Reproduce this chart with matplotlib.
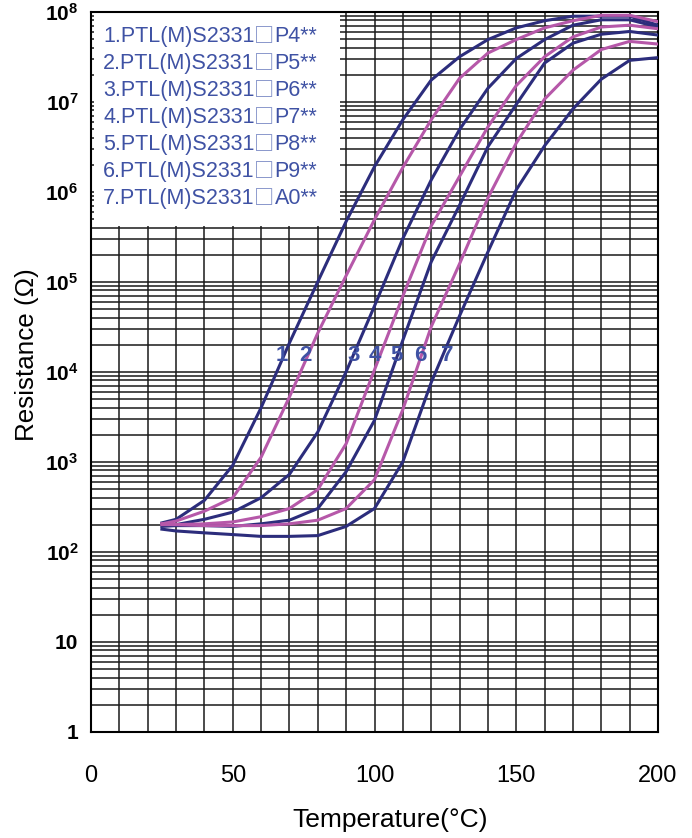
import matplotlib
matplotlib.use('Agg')
import matplotlib.pyplot as plt
from matplotlib.ticker import MultipleLocator, LogLocator, NullFormatter, FixedLocator
from matplotlib.patches import Rectangle

plt.rcParams['font.family'] = ['Liberation Sans', 'DejaVu Sans']
plt.rcParams['mathtext.fontset'] = 'custom'
plt.rcParams['mathtext.rm'] = 'Liberation Sans'
plt.rcParams['mathtext.bf'] = 'Liberation Sans:bold'

# ---------------- data ----------------
temperature = [25, 30, 40, 50, 60, 70, 80, 90, 100, 110, 120, 130, 140, 150, 160, 170, 180, 190, 200]

curve_1 = [209, 229, 372, 912, 3980, 2.09e4, 1.0e5, 4.68e5, 1.9e6, 6.31e6, 1.74e7, 3.16e7, 4.9e7, 6.61e7, 7.94e7, 8.91e7, 8.91e7, 8.91e7, 7.08e7]
curve_2 = [204, 219, 282, 398, 1122, 5248, 2.69e4, 1.17e5, 4.9e5, 1.86e6, 6.31e6, 1.82e7, 3.47e7, 4.9e7, 6.61e7, 7.94e7, 9.12e7, 9.12e7, 7.76e7]
curve_3 = [200, 200, 229, 275, 398, 724, 2138, 1.0e4, 5.37e4, 3.02e5, 1.35e6, 4.9e6, 1.41e7, 3.02e7, 4.9e7, 7.08e7, 8.13e7, 8.13e7, 6.76e7]
curve_4 = [204, 200, 204, 214, 245, 302, 490, 1585, 1.05e4, 6.92e4, 4.17e5, 1.48e6, 5.25e6, 1.51e7, 3.16e7, 5.25e7, 6.76e7, 7.08e7, 6.46e7]
curve_5 = [191, 195, 195, 191, 204, 224, 302, 776, 2884, 2.24e4, 1.66e5, 7.08e5, 3.16e6, 9.33e6, 2.69e7, 4.47e7, 5.62e7, 6.03e7, 5.5e7]
curve_6 = [200, 200, 195, 195, 195, 204, 224, 302, 631, 3802, 3.16e4, 1.58e5, 8.51e5, 3.47e6, 1.07e7, 2.24e7, 3.8e7, 4.68e7, 4.37e7]
curve_7 = [178, 170, 162, 155, 148, 148, 151, 191, 302, 1000, 7586, 4.17e4, 2.14e5, 1.05e6, 3.24e6, 8.32e6, 1.78e7, 2.88e7, 3.09e7]

curves = [curve_1, curve_2, curve_3, curve_4, curve_5, curve_6, curve_7]
name_prefix = '{}.PTL(M)S2331'
name_box = '\u25a1'
name_suffix = ['P4**', 'P5**', 'P6**', 'P7**', 'P8**', 'P9**', 'A0**']
curve_numbers = ['1', '2', '3', '4', '5', '6', '7']
number_label_T = [67.4, 75.5, 92.8, 100.2, 107.6, 116.1, 125.6]
number_label_R = 1.53e4

x_ticks = [0, 50, 100, 150, 200]
y_ticks = [1, 10, 1e2, 1e3, 1e4, 1e5, 1e6, 1e7, 1e8]
y_tick_labels = ['1', '10', r'$\mathbf{10^{2}}$', r'$\mathbf{10^{3}}$', r'$\mathbf{10^{4}}$',
                 r'$\mathbf{10^{5}}$', r'$\mathbf{10^{6}}$', r'$\mathbf{10^{7}}$', r'$\mathbf{10^{8}}$']

# ---------------- style ----------------
NAVY = '#2c2d7c'
PINK = '#b658a9'
colors = [NAVY, PINK, NAVY, PINK, NAVY, PINK, NAVY]
TEXT_BLUE = '#3f52a4'

W, H = 692, 838
fig = plt.figure(figsize=(W / 100, H / 100), dpi=100)
ax = fig.add_axes([91 / W, 1 - 731.7 / H, (658 - 91) / W, (731.7 - 11.7) / H])
ax.set_yscale('log')
ax.set_xlim(0, 200)
ax.set_ylim(1, 1e8)

for vals, c in zip(curves, colors):
    ax.plot(temperature, vals, color=c, lw=2.2, zorder=3, solid_joinstyle='round')

ax.xaxis.set_major_locator(FixedLocator(x_ticks))
ax.xaxis.set_minor_locator(MultipleLocator(10))
ax.set_xticklabels([str(t) for t in x_ticks])
ax.yaxis.set_major_locator(FixedLocator(y_ticks))
ax.yaxis.set_minor_locator(LogLocator(base=10, subs=range(2, 10), numticks=30))
ax.yaxis.set_minor_formatter(NullFormatter())
ax.set_yticklabels(y_tick_labels)
for lab in ax.get_yticklabels():
    lab.set_fontweight('bold')

ax.grid(which='both', axis='both', color='#1a1a1a', lw=1.1)
ax.set_axisbelow(True)
ax.tick_params(which='both', length=0)
ax.tick_params(axis='x', pad=24, labelsize=17)
ax.tick_params(axis='y', pad=9, labelsize=15)
for s in ax.spines.values():
    s.set_linewidth(1.5)
    s.set_color('black')

# white legend panel
ax.add_patch(Rectangle((1.2, 4.2e5), 86.7, 2e8, facecolor='white', edgecolor='none', zorder=1))
for i, suf in enumerate(name_suffix):
    t1 = ax.text((103 - 91) / 567, (731.7 - 36.7 - 27 * i) / 720, name_prefix.format(i + 1),
                 transform=ax.transAxes, fontsize=15.5, color=TEXT_BLUE, ha='left', va='center', zorder=4)
    t2 = ax.annotate(name_box, xy=(1, 0.5), xycoords=t1, xytext=(0, 0), textcoords='offset points',
                     fontsize=14.5, color='#6f80c0', ha='left', va='center', zorder=4,
                     family=['Noto Sans CJK SC', 'DejaVu Sans'])
    ax.annotate(suf, xy=(1, 0.5), xycoords=t2, xytext=(0, 0), textcoords='offset points',
                fontsize=15.5, color=TEXT_BLUE, ha='left', va='center', zorder=4)

for num, t in zip(curve_numbers, number_label_T):
    ax.text(t, number_label_R, num, fontsize=16, fontweight='bold', color=TEXT_BLUE,
            ha='center', va='center', zorder=4)

fig.text(27 / W, 1 - 355 / H, 'Resistance (\u03a9)', rotation=90, ha='center', va='center', fontsize=18.7)
fig.text(390 / W, 1 - 820 / H, 'Temperature(\u00b0C)', ha='center', va='center', fontsize=19)

fig.savefig('out.png', dpi=100)
